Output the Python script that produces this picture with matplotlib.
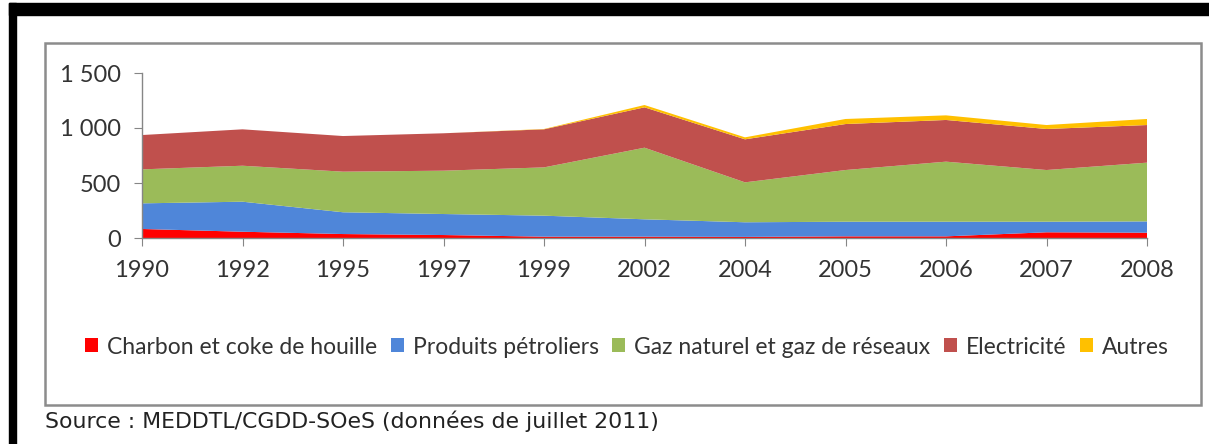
import matplotlib
matplotlib.use("Agg")
import matplotlib.pyplot as plt
from matplotlib.patches import Rectangle, Patch

years = ["1990", "1992", "1995", "1997", "1999", "2002", "2004", "2005", "2006", "2007", "2008"]
charbon = [82, 57, 36, 27, 12, 12, 10, 15, 15, 52, 48]
petrole = [233, 273, 198, 191, 191, 158, 133, 133, 133, 96, 103]
gaz = [309, 327, 369, 394, 439, 651, 363, 470, 546, 470, 534]
elec = [312, 331, 324, 340, 346, 367, 391, 418, 379, 373, 342]
autres = [0, 0, 0, 0, 3, 21, 18, 46, 42, 36, 55]
series_labels = ["Charbon et coke de houille", "Produits pétroliers",
                 "Gaz naturel et gaz de réseaux", "Electricité", "Autres"]
yticks = [0, 500, 1000, 1500]
ytick_labels = ["0", "500", "1 000", "1 500"]
source_text = "Source : MEDDTL/CGDD-SOeS (données de juillet 2011)"

colors = ["#FF0000", "#4F86D9", "#9BBB59", "#C0504D", "#FFC000"]

W, H = 1209, 444
fig = plt.figure(figsize=(W / 100, H / 100), dpi=100)
fig.patch.set_facecolor("white")

def fx(px):
    return px / W

def fy(py):
    return 1 - py / H

# black decorative borders
fig.patches.append(Rectangle((fx(9), fy(15)), 1 - fx(9), fy(3) - fy(15),
                             transform=fig.transFigure, color="black", zorder=-2))
fig.patches.append(Rectangle((fx(9), 0), fx(16) - fx(9), fy(3),
                             transform=fig.transFigure, color="black", zorder=-2))
# chart frame
fig.patches.append(Rectangle((fx(45), fy(405)), fx(1201) - fx(45), fy(43) - fy(405),
                             transform=fig.transFigure, facecolor="white",
                             edgecolor="#8C8C8C", linewidth=1.8, zorder=-1))

ax = fig.add_axes([fx(142), fy(238), fx(1147) - fx(142), fy(73) - fy(238)])
ax.set_zorder(2)
ax.set_facecolor("none")
x = list(range(len(years)))
ax.stackplot(x, charbon, petrole, gaz, elec, autres, colors=colors,
             labels=series_labels, linewidth=0)
ax.set_xlim(0, len(years) - 1)
ax.set_ylim(0, 1500)
ax.set_xticks(x)
ax.set_xticklabels(years)
ax.set_yticks(yticks)
ax.set_yticklabels(ytick_labels)
for s in ["top", "right"]:
    ax.spines[s].set_visible(False)
for s in ["left", "bottom"]:
    ax.spines[s].set_color("#868686")
    ax.spines[s].set_linewidth(1.0)
ax.tick_params(axis="both", direction="out", length=6, color="#868686",
               labelsize=17, labelcolor="#333333")
ax.tick_params(axis="x", pad=10)
ax.tick_params(axis="y", pad=9)
for lab in ax.get_xticklabels() + ax.get_yticklabels():
    lab.set_family("Lato")

handles = [Patch(facecolor=c, edgecolor="none") for c in colors]
leg = fig.legend(handles, series_labels, loc="center", bbox_to_anchor=(fx(627), fy(347)),
                 ncol=5, frameon=False, handlelength=0.55, handleheight=0.55,
                 handletextpad=0.4, columnspacing=0.6,
                 prop={"family": "Lato", "size": 16.5}, labelcolor="#333333")
leg.set_zorder(3)

fig.text(fx(45), fy(421), source_text, ha="left", va="center",
         fontsize=15.8, family="DejaVu Sans", color="#222222")

fig.savefig("out.png", dpi=100)
